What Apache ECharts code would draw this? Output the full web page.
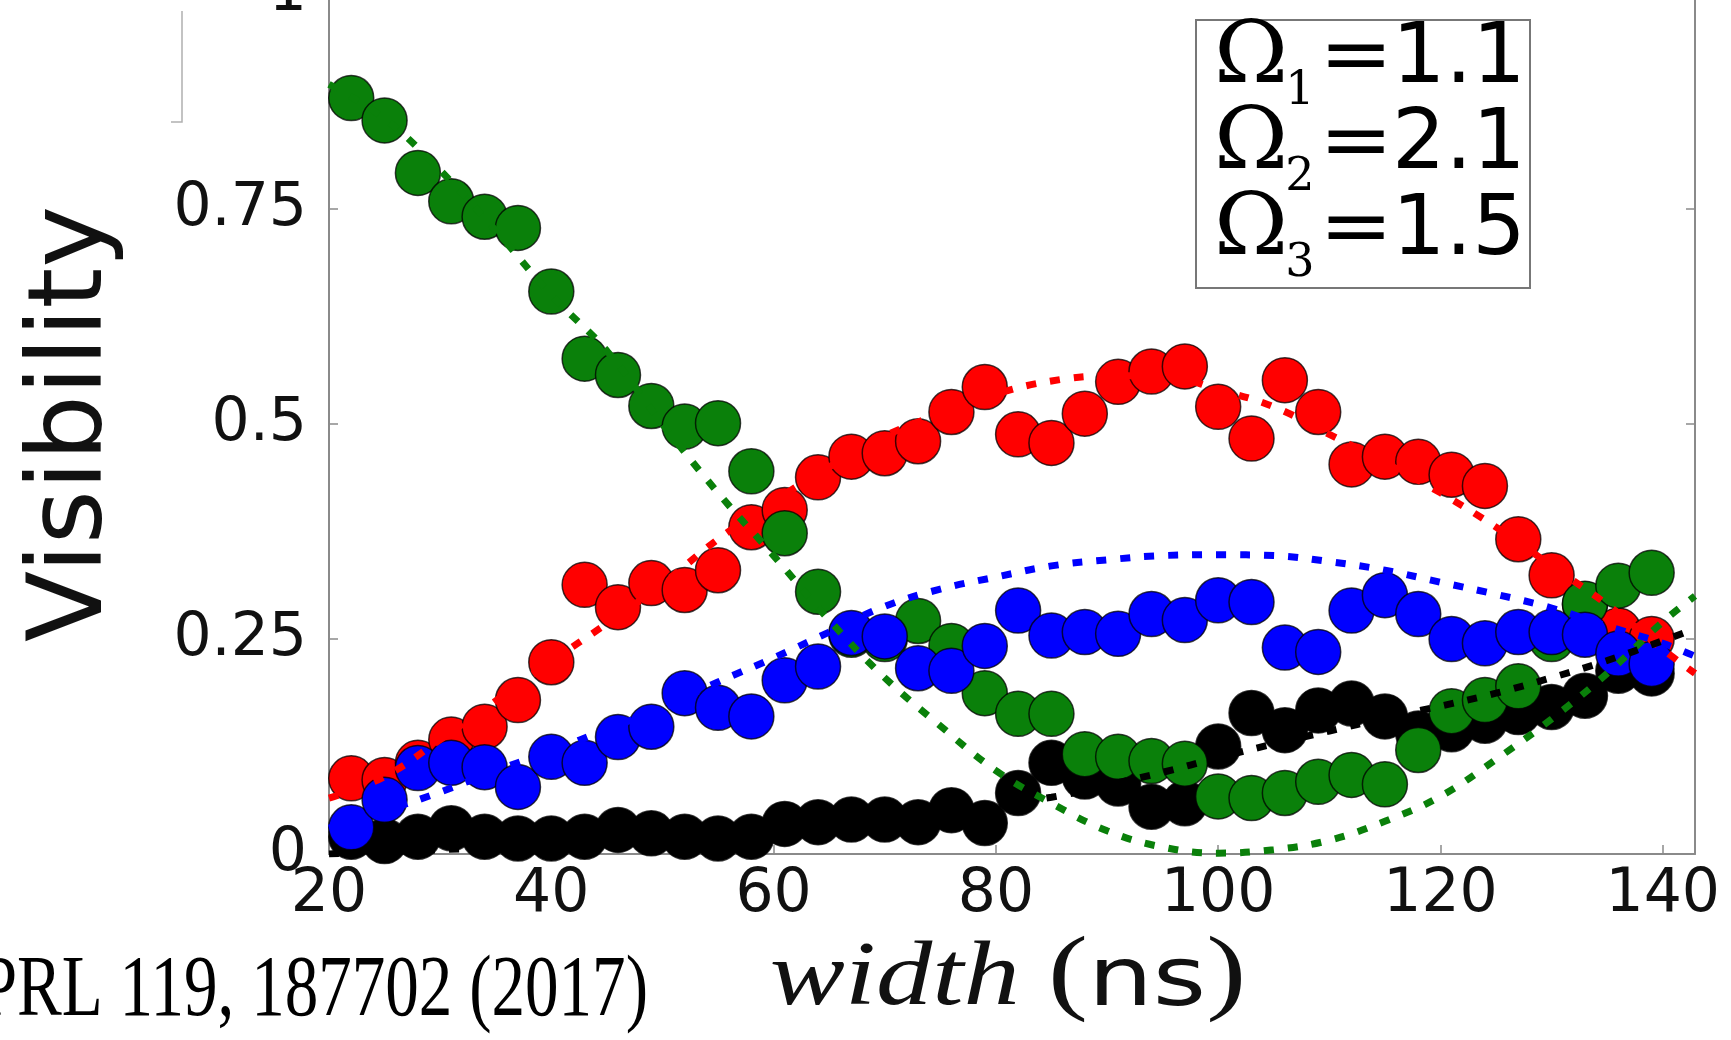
<!DOCTYPE html>
<html><head><meta charset="utf-8">
<script src="https://cdn.jsdelivr.net/npm/echarts@6/dist/echarts.min.js"></script>
<style>html,body{margin:0;padding:0;background:#fff;overflow:hidden}#c{width:1731px;height:1040px}</style>
</head><body><div id="c"></div>
<script>
// ---- data ----
const widths = [22,25,28,31,34,37,40,43,46,49,52,55,58,61,64,67,70,73,76,79,82,85,88,91,94,97,100,103,106,109,112,115,118,121,124,127,130,133,136,139];
const greenVis = [0.879,0.853,0.792,0.759,0.741,0.728,0.654,0.576,0.557,0.521,0.497,0.501,0.445,0.373,0.305,0.255,0.250,0.271,0.242,0.187,0.163,0.163,0.116,0.113,0.108,0.105,0.067,0.065,0.071,0.084,0.092,0.081,0.121,0.166,0.179,0.195,0.250,0.291,0.312,0.327];
const redVis   = [0.088,0.086,0.106,0.133,0.148,0.179,0.223,0.313,0.287,0.315,0.307,0.330,0.380,0.400,0.438,0.462,0.466,0.480,0.514,0.543,0.488,0.478,0.512,0.549,0.561,0.567,0.520,0.483,0.551,0.514,0.453,0.462,0.456,0.441,0.428,0.366,0.324,0.290,0.260,0.250];
const blueVis  = [0.031,0.063,0.100,0.106,0.101,0.078,0.113,0.106,0.136,0.148,0.187,0.170,0.160,0.202,0.218,0.257,0.253,0.216,0.213,0.242,0.283,0.254,0.258,0.256,0.279,0.272,0.295,0.293,0.240,0.235,0.283,0.301,0.279,0.250,0.245,0.258,0.258,0.255,0.233,0.221];
const blackVis = [0.020,0.015,0.020,0.030,0.020,0.018,0.018,0.020,0.028,0.024,0.020,0.018,0.020,0.035,0.037,0.040,0.040,0.037,0.051,0.036,0.071,0.106,0.090,0.082,0.055,0.059,0.125,0.164,0.144,0.167,0.175,0.160,0.140,0.145,0.155,0.165,0.171,0.184,0.213,0.210];

// fitted curves (dotted), read at sample widths
const fitX     = [20,25,30,35,40,45,50,55,60,65,70,75,80,85,90,95,100,105,110,115,120,125,130,135,140,142.9];
const greenFit = [0.895,0.855,0.795,0.725,0.650,0.585,0.500,0.420,0.347,0.272,0.205,0.149,0.097,0.059,0.027,0.008,0.001,0.005,0.016,0.038,0.067,0.110,0.157,0.210,0.270,0.300];
const redFit   = [0.065,0.090,0.133,0.178,0.224,0.268,0.314,0.366,0.410,0.450,0.486,0.512,0.535,0.550,0.556,0.556,0.540,0.520,0.488,0.455,0.420,0.380,0.335,0.290,0.238,0.210];
const blueFit  = [0.030,0.050,0.072,0.097,0.120,0.145,0.170,0.200,0.228,0.258,0.288,0.308,0.322,0.335,0.342,0.347,0.348,0.347,0.340,0.330,0.316,0.302,0.286,0.265,0.245,0.230];
const blackFit = [0.000,0.003,0.005,0.008,0.012,0.017,0.022,0.027,0.033,0.039,0.045,0.051,0.058,0.066,0.080,0.095,0.112,0.128,0.143,0.158,0.172,0.187,0.205,0.225,0.248,0.262];

const xTicks = [20,40,60,80,100,120,140];
const yTicks = [0,0.25,0.5,0.75,1];
const omegaIdx = ['1','2','3'];
const omegaVal = ['1.1','2.1','1.5'];
const xTitle = {it:'width ', unit:'ns'};
const yTitle = 'Visibility';
const citation = 'PRL 119, 187702 (2017)';

// ---- chart ----
const chart = echarts.init(document.getElementById('c'), null, {renderer:'canvas'});
const pair = (xs, ys) => xs.map((x,i)=>[x, ys[i]]);
const axisGray = '#8a8a8a';

function scatter(name, color, vals, z){
  return {type:'scatter', name, data: pair(widths, vals), symbol:'circle', symbolSize:45, z,
    itemStyle:{color, borderColor:'rgba(0,0,0,0.75)', borderWidth:1.5, opacity:1}, emphasis:{disabled:true}, clip:false};
}
function fit(name, color, vals){
  return {type:'line', name, data: pair(fitX, vals), smooth:0.4, showSymbol:false, z:10,
    lineStyle:{color, width:7, type:[10,14], cap:'butt'}, emphasis:{disabled:true}};
}

const graphic = [
  {type:'polyline', shape:{points:[[182,11],[182,122],[171,122]]}, style:{stroke:'#b0b0b0', lineWidth:1.5, fill:null}},
  {type:'rect', shape:{x:1196, y:20, width:334, height:268}, style:{fill:'#fff', stroke:'#777', lineWidth:2}, z:100},
  {type:'text', x:648, y:992, scaleX:0.78, z:100, style:{text:citation, fontSize:86, fontFamily:'Liberation Serif', fill:'#000', align:'right', verticalAlign:'middle'}},
  {type:'text', x:1008, y:977, scaleX:1.25, z:100, style:{
    text:'{it|'+xTitle.it+'}{pn|(}{ns|'+xTitle.unit+'}{pn|)}', align:'center', verticalAlign:'middle',
    rich:{
      it:{fontSize:90, fontFamily:'Liberation Serif', fontStyle:'italic', fill:'#111', verticalAlign:'bottom'},
      pn:{fontSize:96, fontFamily:'Liberation Serif', fill:'#111', verticalAlign:'bottom'},
      ns:{fontSize:82, fontFamily:'DejaVu Sans', fill:'#111', verticalAlign:'bottom'}}}}
];
const rowY = [60,146,232];
omegaIdx.forEach((s,i)=>{
  graphic.push({type:'text', x:1214, y:rowY[i], scaleX:1.04, z:101, style:{text:'Ω', fontSize:86, fontFamily:'DejaVu Serif', fill:'#000', align:'left', verticalAlign:'middle'}});
  graphic.push({type:'text', x:1300, y:rowY[i]+32, z:101, style:{text:s, fontSize:46, fontFamily:'DejaVu Serif', fill:'#000', align:'center', verticalAlign:'middle'}});
  graphic.push({type:'text', x:1356, y:rowY[i], scaleX:1.1, z:101, style:{text:'=', fontSize:80, fontFamily:'DejaVu Sans', fill:'#000', align:'center', verticalAlign:'middle'}});
  graphic.push({type:'text', x:1392, y:rowY[i], z:101, style:{text:omegaVal[i], fontSize:84, fontFamily:'DejaVu Sans', fill:'#000', align:'left', verticalAlign:'middle'}});
});

chart.setOption({
  backgroundColor:'#fff',
  animation:false,
  grid:{left:329, right:36, top:-6, bottom:186, containLabel:false, outerBoundsMode:'none'},
  xAxis:{type:'value', min:20, max:142.9, interval:20,
    axisLine:{show:true, onZero:false, lineStyle:{color:axisGray, width:2}},
    axisTick:{show:true, inside:true, length:9, lineStyle:{color:axisGray, width:1.5}},
    splitLine:{show:false},
    axisLabel:{fontSize:60, fontFamily:'DejaVu Sans', color:'#111', margin:11,
      formatter:v=> xTicks.includes(v) ? String(v) : ''}
  },
  yAxis:[{type:'value', min:0, max:1, interval:0.25,
    axisLine:{show:true, lineStyle:{color:axisGray, width:2}},
    axisTick:{show:true, inside:true, length:9, lineStyle:{color:axisGray, width:1.5}},
    splitLine:{show:false},
    axisLabel:{fontSize:60, fontFamily:'DejaVu Sans', color:'#111', margin:22,
      formatter:v=> yTicks.includes(v) ? String(v) : ''},
    name:yTitle, nameLocation:'middle', nameRotate:90, nameGap:203,
    nameTextStyle:{fontSize:104, fontFamily:'DejaVu Sans', color:'#111'}
  },{type:'value', min:0, max:1, interval:0.25, position:'right',
    axisLine:{show:true, lineStyle:{color:axisGray, width:2}},
    axisTick:{show:true, inside:true, length:9, lineStyle:{color:axisGray, width:1.5}},
    axisLabel:{show:false}, splitLine:{show:false}}],
  series:[
    scatter('black', '#000000', blackVis, 2),
    scatter('red', '#ff0000', redVis, 3),
    scatter('green', '#0a800a', greenVis, 4),
    scatter('blue', '#0000ff', blueVis, 5),
    fit('green fit', '#0a800a', greenFit),
    fit('red fit', '#ff0000', redFit),
    fit('blue fit', '#0000ff', blueFit),
    fit('black fit', '#000000', blackFit)
  ],
  graphic
});
</script></body></html>
